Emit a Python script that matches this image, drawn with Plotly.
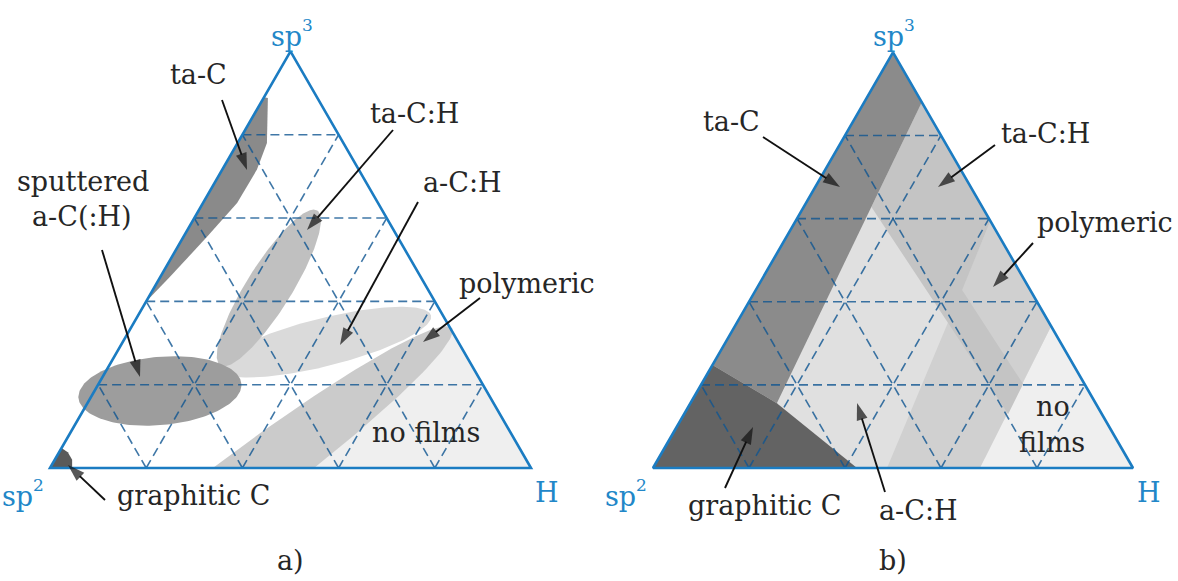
import numpy as np
import plotly.graph_objects as go

# ---------------- data : compositions given as (sp3 fraction, H fraction) ----------------
grid_levels = [0.2, 0.4, 0.6, 0.8]

# panel a) polygons
a_no_films = [(0.0, 0.478), (0.0, 1.0), (0.336, 0.664)]
a_ta_C = [(0.89, 0.0), (0.888, 0.009), (0.78, 0.061), (0.717, 0.072), (0.636, 0.071),
          (0.555, 0.049), (0.459, 0.020), (0.40, 0.0)]
a_graphitic = [(0.0, 0.0), (0.0, 0.046), (0.02, 0.036), (0.038, 0.018), (0.048, 0.0)]
# panel a) ellipses: centre sp3, centre H, semi-major, semi-minor (fraction of side), tilt (deg)
a_polymeric = (-0.037, 0.421, 0.54, 0.064, 36.7)
a_aCH = (0.302, 0.419, 0.229, 0.050, 14.0)
a_taCH = (0.432, 0.239, 0.19, 0.047, 58.0)
a_sputtered = (0.185, 0.136, 0.17, 0.071, 5.0)

# panel b) polygons
b_aCH = [(1.0, 0.0), (0.0, 0.0), (0.0, 1.0)]
b_no_films = [(0.0, 0.681), (0.0, 1.0), (0.341, 0.659)]
b_polymeric = [(0.0, 0.4875), (0.0, 0.681), (0.341, 0.659), (0.594, 0.406)]
b_taCH = [(0.88, 0.12), (0.628, 0.141), (0.130, 0.675), (0.202, 0.670), (0.428, 0.430), (0.594, 0.406)]
b_taC = [(1.0, 0.0), (0.88, 0.12), (0.156, 0.18), (0.248, 0.0)]
b_graphitic = [(0.0, 0.0), (0.248, 0.0), (0.156, 0.18), (0.0, 0.425)]

# ---------------- layout geometry ----------------
SIDE = {"a": (50.0, 468.0, 481.0), "b": (653.0, 468.0, 480.0)}  # sp2 vertex x, y and side length
H3 = np.sqrt(3) / 2
FONT = "DejaVu Serif"
TXT = "#262626"
BLUE = "#2287c8"


def to_xy(sp3, h, panel):
    x0, y0, L = SIDE[panel]
    sp3 = np.asarray(sp3, float)
    h = np.asarray(h, float)
    return x0 + L * (h + sp3 / 2), y0 - L * H3 * sp3


def tri_vertices(panel):
    xs, ys = to_xy([0, 0, 1], [0, 1, 0], panel)
    return list(zip(xs, ys))


def clip(xs, ys, panel):
    verts = tri_vertices(panel)

    def cross(a, b, p):
        return (b[0] - a[0]) * (p[1] - a[1]) - (b[1] - a[1]) * (p[0] - a[0])
    c0 = verts[2]
    pts = list(zip(xs, ys))
    for i in range(3):
        a, b = verts[i], verts[(i + 1) % 3]
        sgn = np.sign(cross(a, b, c0))
        out = []
        n = len(pts)
        for j in range(n):
            p, q = pts[j], pts[(j + 1) % n]
            ip = cross(a, b, p) * sgn >= 0
            iq = cross(a, b, q) * sgn >= 0
            if ip:
                out.append(p)
            if ip != iq:
                cp, cq = cross(a, b, p), cross(a, b, q)
                t = cp / (cp - cq)
                out.append((p[0] + t * (q[0] - p[0]), p[1] + t * (q[1] - p[1])))
        pts = out
    return [p[0] for p in pts], [p[1] for p in pts]


def poly(points, panel):
    s = [p[0] for p in points]
    h = [p[1] for p in points]
    x, y = to_xy(s, h, panel)
    return clip(x, y, panel)


def ellipse(params, panel):
    s, h, A, B, ang = params
    cx, cy = to_xy(s, h, panel)
    L = SIDE[panel][2]
    t = np.linspace(0, 2 * np.pi, 200)
    th = np.radians(ang)
    u = A * L * np.cos(t)
    v = B * L * np.sin(t)
    x = cx + u * np.cos(th) - v * np.sin(th)
    y = cy - (u * np.sin(th) + v * np.cos(th))
    return clip(x, y, panel)


fig = go.Figure()


def add_fill(xy, color):
    x, y = xy
    fig.add_trace(go.Scatter(x=list(x) + [x[0]], y=list(y) + [y[0]], mode="lines", fill="toself",
                             fillcolor=color, line=dict(width=0, color=color),
                             hoverinfo="skip", showlegend=False))


# panel a regions
add_fill(poly(a_no_films, "a"), "#efefef")
add_fill(ellipse(a_polymeric, "a"), "#cbcbcb")
add_fill(ellipse(a_aCH, "a"), "#dadada")
add_fill(ellipse(a_taCH, "a"), "#c0c0c0")
add_fill(ellipse(a_sputtered, "a"), "#9d9d9d")
add_fill(poly(a_ta_C, "a"), "#8a8a8a")
add_fill(poly(a_graphitic, "a"), "#5a5a5a")

# panel b regions
add_fill(poly(b_aCH, "b"), "#e0e0e0")
add_fill(poly(b_no_films, "b"), "#efefef")
add_fill(poly(b_polymeric, "b"), "#d0d0d0")
add_fill(poly(b_taCH, "b"), "#c4c4c4")
add_fill(poly(b_taC, "b"), "#8b8b8b")
add_fill(poly(b_graphitic, "b"), "#636363")

# grid + border
for pn in ("a", "b"):
    gx, gy = [], []
    for v in grid_levels:
        for s_pair, h_pair in (([v, v], [0, 1 - v]),          # constant sp3
                               ([0, 1 - v], [v, v]),          # constant H
                               ([0, 1 - v], [1 - v, 0])):     # constant sp2
            x, y = to_xy(s_pair, h_pair, pn)
            gx += list(x) + [None]
            gy += list(y) + [None]
    fig.add_trace(go.Scatter(x=gx, y=gy, mode="lines", hoverinfo="skip", showlegend=False,
                             line=dict(color="rgba(15,85,145,0.8)", width=1.6, dash="9px,5px")))
    bx, by = to_xy([1, 0, 0, 1], [0, 0, 1, 0], pn)
    fig.add_trace(go.Scatter(x=bx, y=by, mode="lines", hoverinfo="skip", showlegend=False,
                             line=dict(color="#1b7cc2", width=2.6)))

annotations = []


def label(text, x, y, color=TXT, size=27, anchor="center"):
    annotations.append(dict(text=text, x=x, y=y, xref="x", yref="y", showarrow=False,
                            xanchor=anchor, yanchor="middle", borderpad=0, borderwidth=0,
                            font=dict(family=FONT, size=size, color=color)))


def arrow(tail, head):
    fig.add_trace(go.Scatter(x=[tail[0], head[0]], y=[tail[1], head[1]], mode="lines+markers",
                             line=dict(color="#111111", width=1.9),
                             marker=dict(symbol="arrow", size=[0, 18], angleref="previous",
                                         color="#111111", line=dict(width=0)),
                             hoverinfo="skip", showlegend=False))


# vertex labels (superscripts drawn as small raised text)
for pn, (x0, y0, L) in SIDE.items():
    label("sp", x0 + L / 2 + 11, 36, BLUE, anchor="right")
    label("3", x0 + L / 2 + 11, 25, BLUE, size=17, anchor="left")
    label("sp", x0 - 17, 496, BLUE, anchor="right")
    label("2", x0 - 17, 485, BLUE, size=17, anchor="left")
    label("H", x0 + L + 16, 492, BLUE)

# panel a labels
label("ta-C", 198, 74); arrow((222, 100), (247, 170))
label("ta-C:H", 414, 113); arrow((393, 130), (307, 230))
label("a-C:H", 462, 182); arrow((418, 202), (340, 345))
label("polymeric", 527, 283); arrow((480, 298), (423, 342))
label("sputtered", 83, 181)
label("a-C(:H)", 82, 216); arrow((102, 250), (140, 377))
label("graphitic C", 193, 495); arrow((105, 500), (68, 465))
label("no films", 426, 432)
label("a)", 290, 560)

# panel b labels
label("ta-C", 731, 121); arrow((763, 137), (840, 187))
label("ta-C:H", 1045, 133); arrow((995, 145), (938, 187))
label("polymeric", 1105, 222); arrow((1033, 243), (993, 287))
label("no", 1053, 406)
label("films", 1052, 442)
label("graphitic C", 764, 505); arrow((725, 488), (753, 427))
label("a-C:H", 918, 510); arrow((885, 492), (857, 403))
label("b)", 893, 560)

fig.update_layout(
    width=1178, height=581, margin=dict(l=0, r=0, t=0, b=0),
    paper_bgcolor="white", plot_bgcolor="white",
    xaxis=dict(range=[0, 1178], visible=False, fixedrange=True),
    yaxis=dict(range=[581, 0], visible=False, fixedrange=True),
    annotations=annotations,
)

fig.write_html("out.html", config={"displayModeBar": False},
               post_script="document.body.style.margin='0';")
